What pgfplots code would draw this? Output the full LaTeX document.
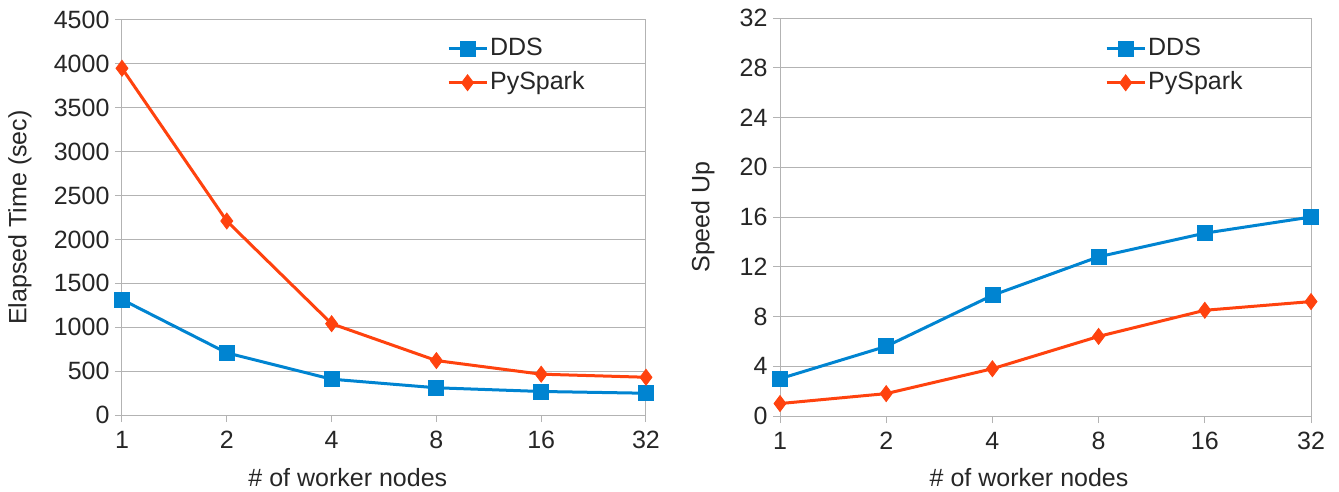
\documentclass[border=0pt]{standalone}
\usepackage{pgfplots}
\pgfplotsset{compat=1.18}
\usepackage{fontspec}
\setmainfont{Liberation Sans}
\definecolor{ddsblue}{HTML}{0084D1}
\definecolor{sparkred}{HTML}{FF420E}
\definecolor{gridgray}{HTML}{B3B3B3}
\newcommand{\bigfont}{\fontsize{25}{30}\selectfont}
\pgfplotsset{
 common/.style={
  scale only axis,
  xmin=0, xmax=5,
  xtick={0,1,2,3,4,5},
  xticklabels={1,2,4,8,16,32},
  axis line style={gridgray, line width=1pt},
  every tick/.style={gridgray, line width=1pt},
  tick align=outside,
  major tick length=7pt,
  xtick pos=bottom, ytick pos=left,
  ymajorgrids,
  major grid style={gridgray, line width=1pt},
  tick label style={font=\bigfont, text=black!85},
  xticklabel style={yshift=-6pt},
  yticklabel style={xshift=-2pt},
  label style={font=\bigfont, text=black!85},
  /pgf/number format/assume math mode=true,
  /pgf/number format/1000 sep={},
  legend style={draw=none, fill=none, font=\bigfont, anchor=north west,
     inner sep=0pt, row sep=7pt, nodes={inner sep=2pt, text height=18pt, text depth=5pt, text=black!85}},
  legend cell align=left,
  legend image code/.code={\draw[mark repeat=2,mark phase=2] plot coordinates {(0pt,0pt) (19pt,0pt) (38pt,0pt)};},
  dds/.style={color=ddsblue, line width=3pt, mark=square*, mark size=7.5pt, mark options={solid, fill=ddsblue, line width=0.8pt}},
  spark/.style={color=sparkred, line width=3pt, mark=diamond*, mark size=8pt, mark options={solid, fill=sparkred, line width=0.8pt}},
 }
}
\begin{document}
\begin{tikzpicture}
\path[use as bounding box] (-122pt,-76pt) rectangle (1217pt,415pt);
\begin{axis}[common,
  width=524pt, height=395pt,
  ymin=0, ymax=4500, ytick={0,500,...,4500},
  ylabel={Elapsed Time (sec)},
  xlabel={\# of worker nodes},
  xlabel style={at={(axis description cs:0.431,0)}, anchor=center, yshift=-63pt},
  ylabel style={at={(axis description cs:-0.195,0.5)}, anchor=center},
  legend style={at={(axis description cs:0.62,0.962)}},
]
\addplot[dds] coordinates {(0,1315) (1,708) (2,408) (3,310) (4,268) (5,248)};
\addlegendentry{DDS}
\addplot[spark] coordinates {(0,3950) (1,2210) (2,1040) (3,620) (4,465) (5,430)};
\addlegendentry{PySpark}
\end{axis}
\begin{axis}[common, at={(658pt,-1pt)},
  width=531pt, height=398pt,
  ymin=0, ymax=32, ytick={0,4,...,32},
  ylabel={Speed Up},
  xlabel={\# of worker nodes},
  xlabel style={at={(axis description cs:0.469,0)}, anchor=center, yshift=-62pt},
  ylabel style={at={(axis description cs:-0.145,0.5)}, anchor=center},
  legend style={at={(axis description cs:0.612,0.957)}},
]
\addplot[dds] coordinates {(0,3.0) (1,5.6) (2,9.7) (3,12.8) (4,14.7) (5,16.0)};
\addlegendentry{DDS}
\addplot[spark] coordinates {(0,1.0) (1,1.8) (2,3.8) (3,6.4) (4,8.5) (5,9.2)};
\addlegendentry{PySpark}
\end{axis}
\end{tikzpicture}
\end{document}
